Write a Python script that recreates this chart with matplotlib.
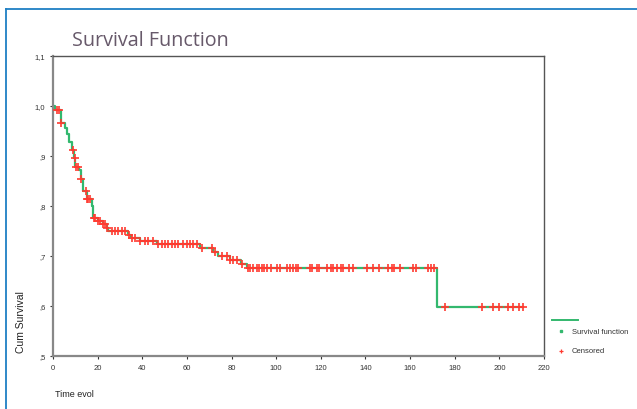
import matplotlib
matplotlib.use("Agg")
import matplotlib.pyplot as plt
from matplotlib.lines import Line2D
from matplotlib.ticker import FuncFormatter
import numpy as np

# Step function: event times and survival level after each event
step_times = [0, 1.0, 3.4, 5.4, 6.1, 7.3, 8.7, 9.6, 10.0, 11.6, 12.5, 13.6, 15.1,
              17.3, 18.1, 20.1, 22.3, 24.0, 24.8, 33.7, 34.8, 39.0, 46.4, 65.9,
              71.5, 74.0, 79.3, 84.3, 86.8, 171.9]
step_surv = [1.0, 0.993, 0.966, 0.957, 0.944, 0.929, 0.913, 0.897, 0.879, 0.872,
             0.854, 0.831, 0.815, 0.801, 0.777, 0.771, 0.764, 0.757, 0.751, 0.743,
             0.737, 0.731, 0.724, 0.716, 0.708, 0.701, 0.692, 0.685, 0.676, 0.599]
end_time = 210.7

# Censored observation times
censor_times = [1.7, 2.8, 3.6, 8.8, 9.7, 10.3, 11.1, 12.7, 14.6, 15.3, 15.8, 16.6,
                18.3, 18.9, 20.3, 21.1, 22.5, 23.3, 24.2, 26.3, 27.8, 29.3, 30.8,
                32.3, 33.9, 35.3, 36.7, 39.2, 41.2, 42.7, 44.9, 47.2, 48.7, 50.2,
                51.7, 53.2, 54.7, 56.2, 58.4, 59.9, 61.4, 62.9, 64.4, 66.9, 71.1,
                72.6, 75.6, 77.8, 79.5, 80.8, 82.3, 84.5, 87.5, 88.3, 89.5, 91.3,
                92.3, 93.5, 94.5, 95.7, 97.5, 100.5, 101.7, 105.0, 106.2, 107.4,
                108.7, 109.9, 115.1, 115.9, 118.1, 119.3, 122.9, 124.6, 125.6,
                127.4, 128.9, 129.8, 132.7, 134.3, 140.5, 143.5, 146.1, 150.2,
                151.7, 152.9, 155.5, 161.4, 162.6, 168.1, 169.4, 170.7, 175.7,
                192.1, 197.3, 199.9, 204.0, 206.2, 208.8, 210.4]

x_ticks = [0, 20, 40, 60, 80, 100, 120, 140, 160, 180, 200, 220]
y_ticks = [0.5, 0.6, 0.7, 0.8, 0.9, 1.0, 1.1]

title_text = "Survival Function"
ylabel_text = "Cum Survival"
xlabel_text = "Time evol"
legend_labels = ["Survival function", "Censored"]

green = "#33b86e"
red = "#ff3a30"

fig = plt.figure(figsize=(6.37, 4.10), dpi=100)
W, H = 637, 410
ax = fig.add_axes([53 / W, 1 - 357 / H, (544 - 53) / W, (357 - 57) / H])

xs = list(step_times) + [end_time]
ys = list(step_surv) + [step_surv[-1]]
ax.step(xs, ys, where="post", color=green, lw=1.6, zorder=2)

st = np.array(step_times)
sv = np.array(step_surv)
cy = [sv[np.searchsorted(st, t, side="right") - 1] for t in censor_times]
ax.plot(censor_times, cy, linestyle="none", marker="+", color=red,
        markersize=6, markeredgewidth=1.2, zorder=3)

ax.set_xlim(0, 220)
ax.set_ylim(0.5, 1.1)
ax.set_xticks(x_ticks)
ax.set_yticks(y_ticks)

def yfmt(v, pos):
    s = f"{v:.1f}".replace(".", ",")
    if s.startswith("0"):
        s = s[1:]
    return s

ax.yaxis.set_major_formatter(FuncFormatter(yfmt))
ax.tick_params(axis="both", direction="out", length=2.5, width=0.8,
               labelsize=5.5, colors="#333333", pad=3)
for lab in ax.get_xticklabels() + ax.get_yticklabels():
    lab.set_fontfamily("Liberation Sans")

for side in ["top", "right"]:
    ax.spines[side].set_color("#555555")
    ax.spines[side].set_linewidth(1.0)
for side in ["left", "bottom"]:
    ax.spines[side].set_color("#888888")
    ax.spines[side].set_linewidth(1.6)

# Title
fig.text(72 / W, 1 - 46 / H, title_text, fontsize=14.2, color="#67596a",
         family="Open Sans", ha="left", va="baseline")
# Axis labels
fig.text(21 / W, 1 - 322 / H, ylabel_text, rotation=90, fontsize=7.5,
         family="Liberation Sans", color="#222222", ha="center", va="center")
fig.text(55 / W, 1 - 395 / H, xlabel_text, fontsize=6.5,
         family="Liberation Sans", color="#222222", ha="left", va="center")

# Legend (manual)
fig.add_artist(Line2D([552 / W, 578 / W], [1 - 321 / H, 1 - 321 / H],
                      color=green, lw=1.4, transform=fig.transFigure))
fig.add_artist(Line2D([561 / W], [1 - 332 / H], marker="s", markersize=2,
                      color=green, linestyle="none", transform=fig.transFigure))
fig.add_artist(Line2D([561 / W], [1 - 352 / H], marker="+", markersize=3,
                      markeredgewidth=0.9, color=red, linestyle="none",
                      transform=fig.transFigure))
fig.text(572 / W, 1 - 332 / H, legend_labels[0], fontsize=5.5,
         family="Liberation Sans", color="#333333", ha="left", va="center")
fig.text(572 / W, 1 - 352 / H, legend_labels[1], fontsize=5.5,
         family="Liberation Sans", color="#333333", ha="left", va="center")

# Blue frame
frame_col = "#1f7fc4"
fig.add_artist(Line2D([6 / W, 1.0], [1 - 10 / H, 1 - 10 / H], color=frame_col,
                      lw=1.3, transform=fig.transFigure))
fig.add_artist(Line2D([6 / W, 6 / W], [0, 1 - 10 / H], color=frame_col,
                      lw=1.3, transform=fig.transFigure))

fig.savefig("out.png", dpi=100)
